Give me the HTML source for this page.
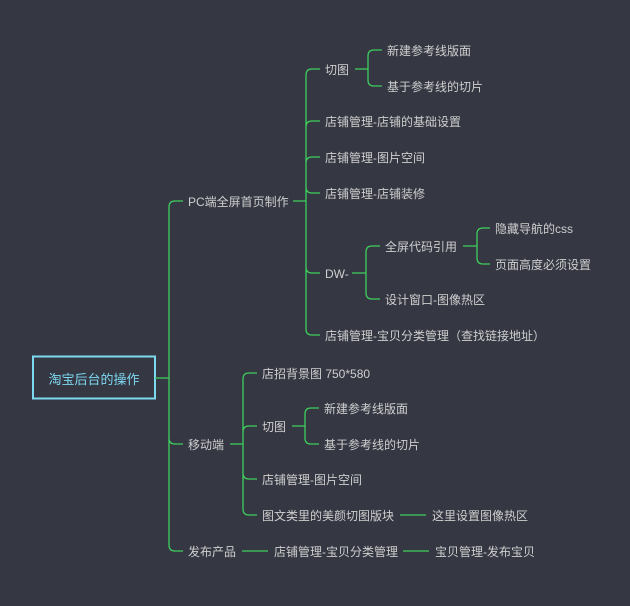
<!DOCTYPE html>
<html><head><meta charset="utf-8"><style>
html,body{margin:0;padding:0;background:#353743;}
svg{display:block}
text{font-family:"Liberation Sans","Noto Sans CJK SC",sans-serif;font-size:12px;fill:#cfcfcf}
path{fill:none;stroke:#3ecf5c;stroke-width:1.3}
</style></head><body>
<svg width="630" height="606" viewBox="0 0 630 606" xmlns="http://www.w3.org/2000/svg">
<rect x="33" y="356.5" width="122" height="42" fill="none" stroke="#7dd9f0" stroke-width="2"/>
<g transform="translate(0,1)">
<text x="94" y="383" text-anchor="middle" style="fill:#7dd9f0;font-size:13px">淘宝后台的操作</text>
<text x="188" y="205">PC端全屏首页制作</text>
<text x="188" y="448">移动端</text>
<text x="188" y="555">发布产品</text>
<text x="325" y="73">切图</text>
<text x="325" y="125">店铺管理-店铺的基础设置</text>
<text x="325" y="161">店铺管理-图片空间</text>
<text x="325" y="197">店铺管理-店铺装修</text>
<text x="325" y="277">DW-</text>
<text x="325" y="339">店铺管理-宝贝分类管理（查找链接地址）</text>
<text x="387" y="54">新建参考线版面</text>
<text x="387" y="90">基于参考线的切片</text>
<text x="385" y="250">全屏代码引用</text>
<text x="385" y="303">设计窗口-图像热区</text>
<text x="495" y="232">隐藏导航的css</text>
<text x="495" y="268">页面高度必须设置</text>
<text x="262" y="377">店招背景图 750*580</text>
<text x="262" y="430">切图</text>
<text x="262" y="483">店铺管理-图片空间</text>
<text x="262" y="519">图文类里的美颜切图版块</text>
<text x="324" y="412">新建参考线版面</text>
<text x="324" y="448">基于参考线的切片</text>
<text x="432" y="519">这里设置图像热区</text>
<text x="274" y="555">店铺管理-宝贝分类管理</text>
<text x="435" y="555">宝贝管理-发布宝贝</text>
</g>

<path d="M155,378 H169 M169,207 V545 M169,207 Q169,201 175,201 H183 M169,438 Q169,444 175,444 H183 M169,545 Q169,551 175,551 H183"/>
<path d="M293,201 H306 M306,75 V329 M306,75 Q306,69 312,69 H320 M306,127 Q306,121 312,121 H320 M306,163 Q306,157 312,157 H320 M306,187 Q306,193 312,193 H320 M306,267 Q306,273 312,273 H320 M306,329 Q306,335 312,335 H320"/>
<path d="M355,69 H368 M368,56 V80 M368,56 Q368,50 374,50 H382 M368,80 Q368,86 374,86 H382"/>
<path d="M352,273 H366 M366,252 V293 M366,252 Q366,246 372,246 H380 M366,293 Q366,299 372,299 H380"/>
<path d="M463,246 H477 M477,234 V258 M477,234 Q477,228 483,228 H490 M477,258 Q477,264 483,264 H490"/>
<path d="M230,444 H243 M243,379 V509 M243,379 Q243,373 249,373 H257 M243,432 Q243,426 249,426 H257 M243,473 Q243,479 249,479 H257 M243,509 Q243,515 249,515 H257"/>
<path d="M292,426 H305 M305,414 V438 M305,414 Q305,408 311,408 H319 M305,438 Q305,444 311,444 H319"/>
<path d="M400,515 H426"/>
<path d="M242,551 H268 M403,551 H429"/>
</svg>
</body></html>
